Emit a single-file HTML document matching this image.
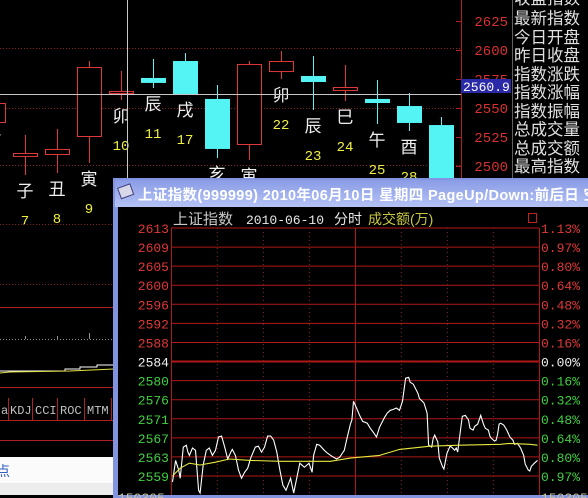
<!DOCTYPE html>
<html><head><meta charset="utf-8"><style>
html,body{margin:0;padding:0;background:#000;width:588px;height:498px;overflow:hidden}
svg{display:block}
text{font-family:"Liberation Mono","Noto Sans CJK SC",monospace}
.cjk{font-family:"Liberation Sans","Noto Sans CJK SC",sans-serif}
</style></head><body>
<svg id="root" width="588" height="498" viewBox="0 0 588 498">
<rect x="0" y="0" width="588" height="498" fill="#000"/>
<g id="kline"></g>
<g>
<line x1="461.5" y1="0" x2="461.5" y2="180" stroke="#b02020"/>
<line x1="512.5" y1="0" x2="512.5" y2="180" stroke="#606060"/>
</g>
<g id="kaxis"></g>
<g>
<line x1="127.5" y1="0" x2="127.5" y2="180" stroke="#c8c8c8"/>
<line x1="0" y1="94.5" x2="461" y2="94.5" stroke="#c8c8c8"/>
</g>
<g>
<rect x="461" y="79" width="50" height="14" fill="#2a2aa8"/>
<text x="463" y="91" font-size="13" fill="#fff">2560.9</text>
</g>
<g class="cjk" font-size="16.5" fill="#e0e0e0">
<text class="cjk" x="514" y="4" fill="#e0e0e0">收盘指数</text>
<text class="cjk" x="514" y="24">最新指数</text>
<text class="cjk" x="514" y="43">今日开盘</text>
<text class="cjk" x="514" y="61">昨日收盘</text>
<text class="cjk" x="514" y="80">指数涨跌</text>
<text class="cjk" x="514" y="98">指数涨幅</text>
<text class="cjk" x="514" y="117">指数振幅</text>
<text class="cjk" x="514" y="135">总成交量</text>
<text class="cjk" x="514" y="154">总成交额</text>
<text class="cjk" x="514" y="172">最高指数</text>
</g>
<g>
<line x1="0" y1="224.5" x2="114" y2="224.5" stroke="#802020" stroke-dasharray="1 2"/>
<line x1="0" y1="284.5" x2="114" y2="284.5" stroke="#802020" stroke-dasharray="1 2"/>
<line x1="0" y1="307.5" x2="114" y2="307.5" stroke="#b02020"/>
<line x1="0" y1="339.5" x2="114" y2="339.5" stroke="#909090" stroke-dasharray="1 2"/>
<line x1="25.5" y1="336" x2="25.5" y2="339" stroke="#909090"/>
<line x1="57.5" y1="336" x2="57.5" y2="339" stroke="#909090"/>
<line x1="89.5" y1="333" x2="89.5" y2="339" stroke="#909090"/>
<polyline points="0,371 65,371 65,369 80,369 80,367 97,367 97,365 114,365" fill="none" stroke="#fff"/>
<polyline points="0,373 10,372 70,371 114,369" fill="none" stroke="#e0e040"/>
<line x1="0" y1="387.5" x2="114" y2="387.5" stroke="#b02020"/>
<line x1="0" y1="420.5" x2="114" y2="420.5" stroke="#b02020"/>
<line x1="0" y1="440.5" x2="114" y2="440.5" stroke="#b02020"/>
<line x1="8.5" y1="398" x2="8.5" y2="420" stroke="#b02020"/>
<line x1="32.5" y1="398" x2="32.5" y2="420" stroke="#b02020"/>
<line x1="57.5" y1="398" x2="57.5" y2="420" stroke="#b02020"/>
<line x1="84.5" y1="398" x2="84.5" y2="420" stroke="#b02020"/>
<line x1="111.5" y1="398" x2="111.5" y2="420" stroke="#b02020"/>
<text x="1" y="414" font-size="12" fill="#c0c0c0">a</text>
<text x="10" y="414" font-size="12" fill="#c0c0c0">KDJ</text>
<text x="35" y="414" font-size="12" fill="#c0c0c0">CCI</text>
<text x="60" y="414" font-size="12" fill="#c0c0c0">ROC</text>
<text x="87" y="414" font-size="12" fill="#c0c0c0">MTM</text>
<rect x="0" y="457" width="114" height="26" fill="#fbfbfb"/>
<rect x="0" y="483" width="114" height="12" fill="#ececec"/>
<text class="cjk" x="-4" y="476" font-size="14" fill="#3060c0">点</text>
</g>
<g>
<defs><linearGradient id="tb" x1="0" y1="0" x2="0" y2="1"><stop offset="0" stop-color="#8a9ce6"/><stop offset="1" stop-color="#b4c2f4"/></linearGradient></defs>
<rect x="113" y="178" width="475" height="320" fill="#8294e0"/>
<rect x="115" y="180" width="473" height="27" fill="url(#tb)"/>
<rect x="119" y="186" width="13" height="11" fill="#d8d8e8" stroke="#404080" transform="rotate(-20 125 191)"/>
<text class="cjk" x="138" y="200" font-size="14.5" font-weight="bold" fill="#fff" textLength="460">上证指数(999999) 2010年06月10日 星期四 PageUp/Down:前后日 空</text>
<rect x="118" y="207" width="470" height="288" fill="#000"/>
<rect x="113" y="495" width="475" height="3" fill="#8294e0"/>
<text class="cjk" x="173" y="224" font-size="15" fill="#c8c8c8">上证指数</text>
<text x="246" y="224" font-size="13" fill="#e8e8e8">2010-06-10</text>
<text class="cjk" x="334" y="224" font-size="14" fill="#e8e8e8">分时</text>
<text class="cjk" x="368" y="224" font-size="14" fill="#c8c840">成交额(万)</text>
<rect x="528.5" y="213.5" width="8" height="9" fill="none" stroke="#c02020"/>
<g id="grid"></g>
<g id="ilines"></g>
<text x="118" y="502" font-size="13" fill="#c8c8a0">150305</text>
<text x="541" y="502" font-size="13" fill="#c8c8a0">150305</text>
</g>
</svg>
<script>
var NS="http://www.w3.org/2000/svg";
var kBranch=["酉","子","丑","寅","卯","辰","戌","亥","寅","卯","辰","巳","午","酉","戌"];
var kDay=["4","7","8","9","10","11","17","18","21","22","23","24","25","28",""];
var kOpen=[2537.1,2507.8,2509.5,2525.0,2562.1,2575.9,2590.5,2557.8,2518.1,2581.0,2577.6,2564.7,2557.8,2551.7,2535.3];
var kClose=[2554.3,2511.2,2514.7,2585.3,2564.7,2571.6,2562.1,2514.7,2587.9,2590.5,2572.4,2568.1,2554.3,2537.1,2470.7];
var kHigh=[2556.0,2526.7,2531.9,2590.5,2581.9,2592.2,2597.4,2569.8,2590.5,2599.1,2594.8,2587.1,2574.1,2562.9,2542.2];
var kLow=[2535.0,2492.2,2494.0,2502.6,2556.9,2567.2,2562.1,2506.9,2505.2,2575.0,2548.3,2556.0,2536.2,2530.2,2470.0];
var kTicks=[2625,2600,2575,2550,2525,2500];
var tMin=[1,3,5,6,8,10,11,12,14,16,18,19,21,23,25,27,29,31,33,35,37,39,40,42,44,46,48,50,52,55,57,59,61,63,65,67,69,71,73,75,78,80,
84,87,90,92,93,95,97,100,102,105,108,110,113,115,117,118,119,121,123,125,128,130,132,134,136,139,141,143,145,147,149,151,153,155,156,158,161,162,165,167,168,170,171,172,174,175,177,178,180,182,183,185,186,187,188,190,192,194,195,197,198,200,202,204,205,207,208,209,211,212,213,214,215,217,219,221,223,224,226,228,230,231,233,234,235,237,239];
var tPrice=[2557.7,2562.4,2560.3,2558.5,2565.3,2565.7,2564.2,2563.5,2565.1,2564.6,2555.9,2555.3,2561.4,2564.6,2565.1,2563.5,2564.6,2567.5,2567.7,2565.3,2562.7,2564.2,2564.8,2563.5,2560.3,2558.5,2559.8,2560.7,2562.9,2565.3,2565.5,2564.2,2565.3,2567.7,2567.7,2566.8,2564.2,2560.3,2557.0,2555.9,2558.5,2555.3,
2561.8,2560.9,2561.8,2559.8,2563.5,2565.9,2565.7,2564.6,2564.0,2563.3,2562.7,2563.1,2564.6,2567.5,2570.3,2571.2,2575.3,2573.8,2572.2,2570.9,2570.5,2569.4,2568.5,2567.5,2569.6,2571.6,2572.7,2573.3,2573.5,2573.8,2573.3,2575.3,2580.3,2580.5,2579.4,2579.0,2577.0,2575.9,2574.9,2572.7,2565.7,2565.3,2567.2,2567.9,2566.4,2562.9,2561.1,2560.5,2564.0,2565.5,2565.3,2564.6,2565.1,2564.2,2567.0,2572.0,2572.2,2571.2,2569.4,2569.0,2569.8,2570.3,2572.2,2570.1,2569.4,2569.0,2567.7,2567.2,2566.6,2566.8,2568.1,2570.3,2570.5,2570.1,2569.0,2567.5,2566.8,2565.9,2566.1,2565.1,2563.5,2561.6,2560.3,2560.1,2561.1,2561.8,2562.4];
var avgMin=[1,6,12,19,29,38,52,71,84,104,117,136,149,169,188,215,221,234,239];
var avgPrice=[2559.0,2560.7,2561.8,2561.4,2562.0,2562.7,2562.4,2562.2,2562.2,2562.2,2562.9,2563.5,2564.8,2565.5,2565.7,2565.9,2566.1,2565.9,2565.7];
var yLabels=["2613","2609","2605","2600","2596","2592","2588","2584","2580","2576","2571","2567","2563","2559"];
var pctLabels=["1.13%","0.97%","0.80%","0.64%","0.48%","0.32%","0.16%","0.00%","0.16%","0.32%","0.48%","0.64%","0.80%","0.97%"];

function kx(i){return -7+32*i;}
function ky(p){return 21+(2625-p)*1.16;}
function mx(m){return 171+m*368/240;}
function py(p){return 228+(2613-p)*4.593;}
function mk(tag,attrs,parent){var e=document.createElementNS(NS,tag);for(var k in attrs)e.setAttribute(k,attrs[k]);parent.appendChild(e);return e;}

(function(){
var kg=document.getElementById('kline');
[48,108,165].forEach(function(y){var l=mk('line',{x1:0,y1:y+.5,x2:461,y2:y+.5,stroke:'#902020','stroke-dasharray':'1 2'},kg);

});
var ka=document.getElementById('kaxis');
kTicks.forEach(function(t){var y=ky(t);
mk('line',{x1:456,y1:y+.5,x2:461,y2:y+.5,stroke:'#b02020'},ka);
var tx=mk('text',{x:508,y:y+5,'font-size':14,fill:'#d83030','text-anchor':'end'},ka);tx.textContent=t;

});
for(var i=0;i<kOpen.length;i++){
 var up=kClose[i]>=kOpen[i],col=up?'#e03838':'#54f4f4',cx=kx(i);
 var g=mk('g',{},kg);
 
 
 mk('line',{x1:cx+.5,y1:ky(kHigh[i]),x2:cx+.5,y2:ky(kLow[i]),stroke:col},g);
 var bTop=ky(Math.max(kOpen[i],kClose[i])),bBot=ky(Math.min(kOpen[i],kClose[i]));
 var bh=Math.max(bBot-bTop,2);
 if(up&&bh>3)mk('rect',{x:cx-11.5,y:bTop+.5,width:24,height:bh-1,fill:'#000',stroke:col},g);
 else mk('rect',{x:cx-12,y:bTop,width:25,height:bh,fill:col},g);
 var ly=ky(kLow[i])+15;
 var t1=mk('text',{x:cx,y:ly+7,'font-size':17,fill:'#f0f0f0','text-anchor':'middle','class':'cjk'},g);t1.textContent=kBranch[i];
 var t2=mk('text',{x:cx,y:ly+35,'font-size':14,fill:'#f0f040','text-anchor':'middle'},g);t2.textContent=kDay[i];
}
var gg=document.getElementById('grid');
for(var r=0;r<yLabels.length;r++){
 var y=228+r*(248/13),mid=yLabels[r]==="2584";
 var l=mk('line',{x1:171,y1:y,x2:539,y2:y,stroke:'#b01818','stroke-width':mid?2:1},gg);
 
 
 var c=r<7?'#e03838':(r==7?'#f0f0f0':'#40d040');
 var a=mk('text',{x:169,y:y+5,'font-size':13,fill:c,'text-anchor':'end'},gg);a.textContent=yLabels[r];
 
 
 var b=mk('text',{x:541,y:y+5,'font-size':13,fill:c},gg);b.textContent=pctLabels[r];
 
 
}
for(var m=0;m<=240;m+=30){
 var xx=Math.round(mx(m))+.5,solid=(m==0||m==120||m==240);
 var v=mk('line',{x1:xx,y1:228,x2:xx,y2:495,stroke:solid?'#b01818':'#901818','stroke-dasharray':solid?'':'1 3'},gg);
 
 
}
var lg=document.getElementById('ilines');
var pts=tMin.map(function(m,i){return mx(m).toFixed(1)+','+py(tPrice[i]).toFixed(1);}).join(' ');
var pl=mk('polyline',{points:pts,fill:'none',stroke:'#fff','stroke-width':1.1},lg);


var apts=avgMin.map(function(m,i){return mx(m).toFixed(1)+','+py(avgPrice[i]).toFixed(1);}).join(' ');
var al=mk('polyline',{points:apts,fill:'none',stroke:'#e8e840','stroke-width':1.1},lg);


})();
</script>
</body></html>
